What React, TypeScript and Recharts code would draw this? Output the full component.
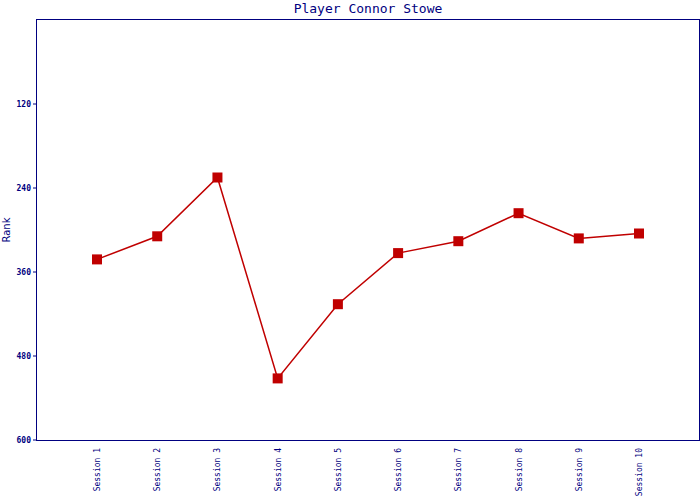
import { LineChart, Line, XAxis, YAxis } from "recharts";

const sessions = [
  "Session 1",
  "Session 2",
  "Session 3",
  "Session 4",
  "Session 5",
  "Session 6",
  "Session 7",
  "Session 8",
  "Session 9",
  "Session 10",
];
const ranks = [342, 309, 225, 512, 406, 333, 316, 276, 312, 305];
const rankTicks = [120, 240, 360, 480, 600];

const data = sessions.map((session, i) => ({ session, rank: ranks[i] }));

const NAVY = "#000080";
const RED = "#c00000";
const MONO = "'DejaVu Sans Mono', monospace";

const SessionTick = (props: any) => {
  const { x, y, payload } = props;
  return (
    <text
      x={x}
      y={y}
      dy={3}
      transform={`rotate(-90, ${x}, ${y})`}
      textAnchor="end"
      fontSize={8}
      fontFamily={MONO}
      fill={NAVY}
    >
      {payload.value}
    </text>
  );
};

const SquareDot = (props: any) => {
  const { cx, cy, index } = props;
  return <rect key={`dot-${index}`} x={cx - 5} y={cy - 5} width={10} height={10} fill={RED} />;
};

const RankLabel = (props: any) => {
  const { viewBox } = props;
  const x = 10;
  const y = viewBox.y + viewBox.height / 2;
  return (
    <text
      x={x}
      y={y}
      transform={`rotate(-90, ${x}, ${y})`}
      textAnchor="middle"
      fontSize={10}
      fontFamily="'DejaVu Sans', sans-serif"
      fill={NAVY}
    >
      Rank
    </text>
  );
};

export default function App() {
  return (
    <div style={{ position: "absolute", left: 0, top: 0, width: 700, height: 500, background: "#fff" }}>
      <div
        style={{
          position: "absolute",
          left: 37,
          width: 662,
          top: 0,
          textAlign: "center",
          fontFamily: MONO,
          fontSize: 13,
          lineHeight: "17px",
          color: NAVY,
        }}
      >
        Player Connor Stowe
      </div>
      <LineChart width={700} height={500} data={data} margin={{ top: 20, right: 1, left: 0, bottom: 0 }}>
        <XAxis
          dataKey="session"
          height={60}
          padding={{ left: 60, right: 60 }}
          axisLine={false}
          tickLine={false}
          interval={0}
          tick={<SessionTick />}
        />
        <YAxis
          width={37}
          domain={[0, 600]}
          reversed
          ticks={rankTicks}
          interval={0}
          tickSize={4}
          axisLine={false}
          tickLine={{ stroke: NAVY }}
          tick={{ fontSize: 8, fontFamily: MONO, fill: NAVY, fontWeight: "bold" }}
          label={<RankLabel />}
        />
        <Line
          dataKey="rank"
          type="linear"
          stroke={RED}
          strokeWidth={1.5}
          dot={<SquareDot />}
          activeDot={false}
          isAnimationActive={false}
        />
      </LineChart>
      <div
        style={{
          position: "absolute",
          left: 36,
          top: 19,
          width: 664,
          height: 422,
          boxSizing: "border-box",
          border: `1px solid ${NAVY}`,
          pointerEvents: "none",
        }}
      />
    </div>
  );
}
